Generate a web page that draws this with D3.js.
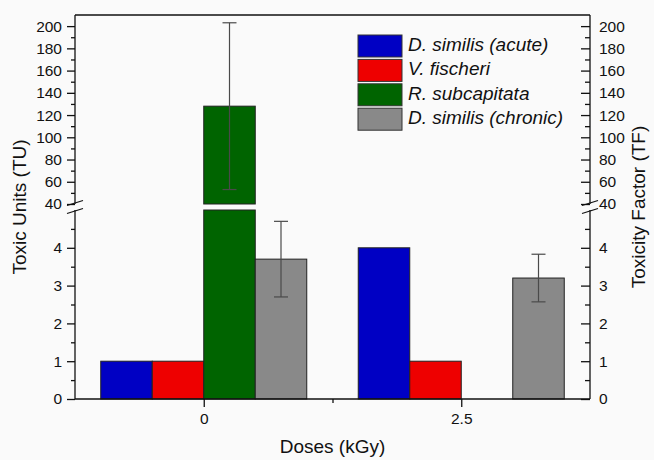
<!DOCTYPE html>
<html>
<head>
<meta charset="utf-8">
<script src="https://cdn.jsdelivr.net/npm/d3@7"></script>
<style>
    body { margin: 0; background: #fafafa; }
    svg { font-family: "Liberation Sans", Arial, sans-serif; }
    .tick text { font-size: 15.5px; fill: #111; }
    .tick line, .axis-line { stroke: #111; stroke-width: 1.3; }
</style>
</head>
<body>
<div id="chart"></div>
<script>
// Daten
const doses = [0, 2.5];
const seriesNames = ["D. similis (acute)", "V. fischeri", "R. subcapitata", "D. similis (chronic)"];
const seriesColors = ["#0000c4", "#ee0000", "#006400", "#898989"];
const acuteValues = [1, 4];
const fischeriValues = [1, 1];
const subcapitataValues = [128, 0];
const chronicValues = [3.7, 3.2];
const subcapitataErr = [75, null];
const chronicErr = [1.0, 0.63];
const lowTicks = [0, 1, 2, 3, 4];
const lowMinor = [0.5, 1.5, 2.5, 3.5, 4.5];
const highTicks = [40, 60, 80, 100, 120, 140, 160, 180, 200];
const highMinor = [50, 70, 90, 110, 130, 150, 170, 190];

const width = 654, height = 460;
const left = 75, right = 590;
const fmt = d => String(d);

const svg = d3.select("#chart").append("svg")
    .attr("width", width)
    .attr("height", height);

const x = d3.scaleLinear().domain([-1.25, 3.75]).range([left, right]);
const yLow = d3.scaleLinear().domain([0, 5]).range([399, 210]);
const yHigh = d3.scaleLinear().domain([40, 210]).range([204, 15]);

const barW = x(0.5) - x(0);
const offsets = [-1, -0.5, 0, 0.5];
const allValues = [acuteValues, fischeriValues, subcapitataValues, chronicValues];
const allErr = [null, null, subcapitataErr, chronicErr];

// Balken
const bars = [];
allValues.forEach((vals, s) => {
    vals.forEach((v, i) => {
        if (!v) return;
        const x0 = x(doses[i] + offsets[s]);
        if (v <= 5) {
            bars.push({ s, x0, y0: yLow(v), y1: yLow(0) });
        } else {
            bars.push({ s, x0, y0: yLow(5), y1: yLow(0) });
            bars.push({ s, x0, y0: yHigh(v), y1: yHigh(40) });
        }
    });
});

svg.selectAll(".bar")
    .data(bars)
    .enter().append("rect")
    .attr("class", "bar")
    .attr("x", d => d.x0)
    .attr("y", d => d.y0)
    .attr("width", barW)
    .attr("height", d => d.y1 - d.y0)
    .attr("fill", d => seriesColors[d.s])
    .attr("stroke", "#222")
    .attr("stroke-width", 1);

// Fehlerbalken
const errs = [];
allErr.forEach((errArr, s) => {
    if (!errArr) return;
    errArr.forEach((e, i) => {
        if (e == null) return;
        const v = allValues[s][i];
        const sc = v > 5 ? yHigh : yLow;
        errs.push({ cx: x(doses[i] + offsets[s]) + barW / 2, top: sc(v + e), bot: sc(v - e) });
    });
});

const eg = svg.selectAll(".err").data(errs).enter().append("g").attr("class", "err")
    .attr("stroke", "#4a4a4a").attr("stroke-width", 1.2);
eg.append("line").attr("x1", d => d.cx).attr("x2", d => d.cx).attr("y1", d => d.top).attr("y2", d => d.bot);
eg.append("line").attr("x1", d => d.cx - 7).attr("x2", d => d.cx + 7).attr("y1", d => d.top).attr("y2", d => d.top);
eg.append("line").attr("x1", d => d.cx - 7).attr("x2", d => d.cx + 7).attr("y1", d => d.bot).attr("y2", d => d.bot);

// Achsen
function addAxis(axis, tx, noLabels) {
    const g = svg.append("g").attr("transform", `translate(${tx[0]},${tx[1]})`).call(axis);
    g.select(".domain").remove();
    if (noLabels) g.selectAll("text").remove();
    return g;
}

addAxis(d3.axisLeft(yLow).tickValues(lowTicks).tickFormat(fmt).tickSize(8).tickPadding(5), [left, 0]);
addAxis(d3.axisLeft(yLow).tickValues(lowMinor).tickSize(4), [left, 0], true);
addAxis(d3.axisLeft(yHigh).tickValues(highTicks).tickFormat(fmt).tickSize(8).tickPadding(5), [left, 0]);
addAxis(d3.axisLeft(yHigh).tickValues(highMinor).tickSize(4), [left, 0], true);

addAxis(d3.axisRight(yLow).tickValues(lowTicks).tickFormat(fmt).tickSizeInner(-9).tickSizeOuter(0).tickPadding(9), [right, 0]);
addAxis(d3.axisRight(yLow).tickValues(lowMinor).tickSizeInner(-5).tickSizeOuter(0), [right, 0], true);
addAxis(d3.axisRight(yHigh).tickValues(highTicks).tickFormat(fmt).tickSizeInner(-9).tickSizeOuter(0).tickPadding(9), [right, 0]);
addAxis(d3.axisRight(yHigh).tickValues(highMinor).tickSizeInner(-5).tickSizeOuter(0), [right, 0], true);

addAxis(d3.axisBottom(x).tickValues(doses).tickFormat(fmt).tickSize(8).tickPadding(6), [0, yLow(0)]);
addAxis(d3.axisBottom(x).tickValues([1.25]).tickSize(4), [0, yLow(0)], true);

// Achsenlinien mit Bruch
const lines = [
    [left, yLow(0), left, yLow(5)], [left, yHigh(40), left, yHigh(210)],
    [right, yLow(0), right, yLow(5)], [right, yHigh(40), right, yHigh(210)],
    [left, yLow(0), right, yLow(0)], [left, yHigh(210), right, yHigh(210)]
];
svg.selectAll(".axis-line").data(lines).enter().append("line")
    .attr("class", "axis-line")
    .attr("x1", d => d[0]).attr("y1", d => d[1]).attr("x2", d => d[2]).attr("y2", d => d[3]);

[left, right].forEach(ax => {
    [yHigh(40) - 1, yLow(5) + 1].forEach(yy => {
        svg.append("line")
            .attr("x1", ax - 8).attr("y1", yy + 2.5)
            .attr("x2", ax + 8).attr("y2", yy - 2.5)
            .attr("stroke", "#111").attr("stroke-width", 1.3);
    });
});

// Achsentitel
svg.append("text")
    .attr("transform", `translate(21,${(yLow(0) + yHigh(210)) / 2}) rotate(-90)`)
    .attr("text-anchor", "middle").attr("dominant-baseline", "middle")
    .style("font-size", "19px").attr("fill", "#111")
    .text("Toxic Units (TU)");

svg.append("text")
    .attr("transform", `translate(640,${(yLow(0) + yHigh(210)) / 2}) rotate(-90)`)
    .attr("text-anchor", "middle").attr("dominant-baseline", "middle")
    .style("font-size", "19px").attr("fill", "#111")
    .text("Toxicity Factor (TF)");

svg.append("text")
    .attr("x", (left + right) / 2).attr("y", 448)
    .attr("text-anchor", "middle").attr("dominant-baseline", "middle")
    .style("font-size", "19px").attr("fill", "#111")
    .text("Doses (kGy)");

// Legende
const legend = svg.append("g").attr("transform", "translate(358,35)");
seriesNames.forEach((name, i) => {
    legend.append("rect")
        .attr("x", 0).attr("y", i * 24.4)
        .attr("width", 44).attr("height", 22)
        .attr("fill", seriesColors[i])
        .attr("stroke", "#333").attr("stroke-width", 1);
    legend.append("text")
        .attr("x", 50).attr("y", i * 24.4 + 11)
        .attr("dominant-baseline", "middle")
        .style("font-size", "19px").style("font-style", "italic").attr("fill", "#111")
        .text(name);
});
</script>
</body>
</html>
